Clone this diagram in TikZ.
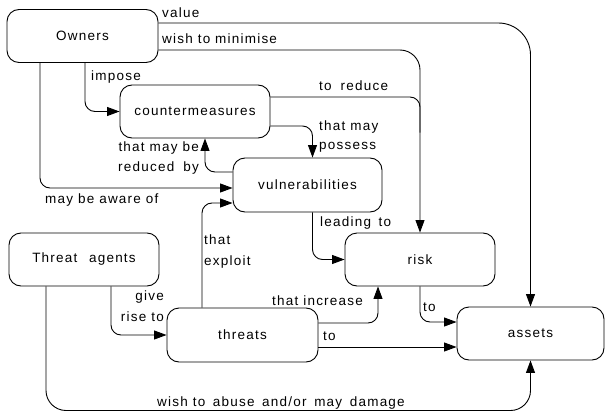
\documentclass[tikz,border=0pt]{standalone}
\usepackage{fontspec}
\setmainfont[LetterSpace=9]{Liberation Sans}
\usetikzlibrary{arrows.meta}
\begin{document}
\begin{tikzpicture}[x=1pt,y=-1pt,
  every node/.style={font=\fontsize{13.5}{15}\selectfont, inner sep=0pt},
  box/.style={draw, line width=0.9pt, rounded corners=12pt, minimum height=53pt},
  conn/.style={line width=0.9pt, rounded corners=10pt},
  arr/.style={conn, -{Triangle[length=12.5pt,width=9pt]}},
  lbl/.style={anchor=west},
  lblr/.style={anchor=east}]
\useasboundingbox (0,0) rectangle (605,412);
% nodes
\node[box, minimum width=151pt] (own) at (82.5,36) {Owners};
\node[box, minimum width=150pt] (cm) at (195,111.5) {countermeasures};
\node[box, minimum width=149pt, minimum height=54pt] (vul) at (307.5,185) {vulnerabilities};
\node[box, minimum width=150pt] (ta) at (84,259.5) {Threat\hspace{0.5em} agents};
\node[box, minimum width=150pt] (risk) at (420,259.5) {risk};
\node[box, minimum width=151pt, minimum height=54pt] (thr) at (242.5,335) {threats};
\node[box, minimum width=147pt] (assets) at (530.5,333.5) {assets};
\coordinate (bot) at (300,410.5);
% connectors
\draw[arr, rounded corners=32pt] ([yshift=13pt]own.east) -| (assets.north);
\draw[arr, rounded corners=20pt] ([yshift=-14pt]own.east) -| (risk.north);
\draw[conn] ([yshift=14.5pt]cm.east) -| ([yshift=100pt]risk.north);
\draw[arr] ([yshift=-14.5pt]cm.east) -| ([xshift=5pt]vul.north);
\draw[arr] ([yshift=13pt]vul.west) -| ([xshift=10pt]cm.south);
\draw[arr] ([xshift=-42.5pt]own.south) |- ([yshift=-3pt]vul.west);
\draw[arr] ([xshift=2.5pt]own.south) |- (cm.west);
\draw[arr] ([xshift=-40.5pt]thr.north) |- ([yshift=-18pt]vul.west);
\draw[arr] ([xshift=27pt]ta.south) |- (thr.west);
\draw[arr] ([xshift=5pt]vul.south) |- (risk.west);
\draw[arr] ([yshift=12pt]thr.east) -| ([xshift=-42pt]risk.south);
\draw[arr] ([yshift=-12pt]thr.east) -- ([yshift=-13.5pt]assets.west);
\draw[arr] (risk.south) |- ([yshift=11.5pt]assets.west);
\draw[arr, rounded corners=20pt] ([xshift=-38pt]ta.south) |- (bot) -| (assets.south);
% labels
\node[lbl] (l1) at (162,13) {value};
\node[lbl] (l2) at (162,39) {wish to minimise};
\node[lbl] (l3) at (91,77) {impose};
\node[lbl] (l4) at (319,86) {to\hspace{0.3em} reduce};
\node[lbl] (l5) at (319,127) {that may};
\node[lbl] (l6) at (319,147.5) {possess};
\node[lblr] (l7) at (199,148) {that may be};
\node[lblr] (l8) at (199,168) {reduced\hspace{0.3em} by};
\node[lbl] (l9) at (45,200) {may be aware of};
\node[lbl] (l10) at (320,223) {leading\hspace{0.2em} to};
\node[lbl] (l11) at (204,240) {that};
\node[lbl] (l12) at (204,262) {exploit};
\node[lblr] (l13) at (164,297) {give};
\node[lblr] (l14) at (164,317) {rise to};
\node[lbl] (l15) at (272,301) {that increase};
\node[lbl] (l16) at (323,336) {to};
\node[lbl] (l17) at (423,307) {to};
\node[lbl] (l18) at (157,403) {wish to\hspace{0.2em} abuse\hspace{0.2em} and/or\hspace{0.2em} may\hspace{0.2em} damage};
\end{tikzpicture}
\end{document}
